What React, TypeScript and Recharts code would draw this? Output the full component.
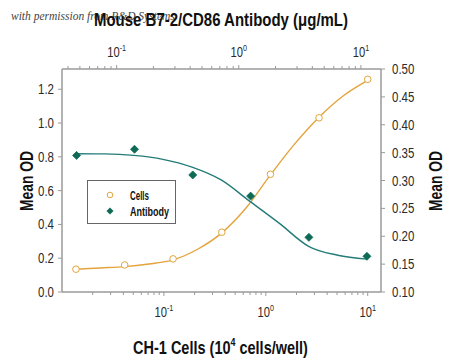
import React from 'react';
import { ComposedChart, Line, Scatter, XAxis, YAxis } from 'recharts';

// Measured points
const cellsX = [0.0137, 0.0412, 0.123, 0.37, 1.11, 3.33, 10];
const cellsOD = [0.135, 0.16, 0.196, 0.354, 0.697, 1.031, 1.259];
const antibodyX = [0.047, 0.14, 0.42, 1.25, 3.75, 11.2];
const antibodyOD = [0.345, 0.356, 0.31, 0.272, 0.198, 0.164];

// Fitted curves
const cellsFitX = [0.0137, 0.0238, 0.0412, 0.0713, 0.123, 0.214, 0.37, 0.642, 1.11, 1.92, 3.33, 5.77, 10];
const cellsFitOD = [0.135, 0.1425, 0.15, 0.166, 0.19, 0.253, 0.35, 0.499, 0.693, 0.877, 1.035, 1.162, 1.253];
const antibodyFitX = [0.046, 0.0797, 0.138, 0.239, 0.414, 0.717, 1.242, 2.152, 3.727, 6.455, 11.18];
const antibodyFitOD = [0.348, 0.3477, 0.345, 0.338, 0.324, 0.301, 0.262, 0.223, 0.182, 0.166, 0.159];

// Axis ticks
const majorTicks = [0.1, 1, 10];
const majorExps = ['-1', '0', '1'];
const bottomTicks = [0.02, 0.03, 0.04, 0.05, 0.06, 0.07, 0.08, 0.09, 0.1, 0.2, 0.3, 0.4, 0.5, 0.6, 0.7, 0.8, 0.9, 1, 2, 3, 4, 5, 6, 7, 8, 9, 10];
const topTicks = [0.04, 0.05, 0.06, 0.07, 0.08, 0.09, 0.1, 0.2, 0.3, 0.4, 0.5, 0.6, 0.7, 0.8, 0.9, 1, 2, 3, 4, 5, 6, 7, 8, 9, 10];
const leftTicks = [0, 0.2, 0.4, 0.6, 0.8, 1.0, 1.2];
const rightTicks = [0.1, 0.15, 0.2, 0.25, 0.3, 0.35, 0.4, 0.45, 0.5];

const cellsData = cellsX.map((x, i) => ({ x, y: cellsOD[i] }));
const antibodyData = antibodyX.map((x, i) => ({ x, y: antibodyOD[i] }));
const cellsFit = cellsFitX.map((x, i) => ({ x, y: cellsFitOD[i] }));
const antibodyFit = antibodyFitX.map((x, i) => ({ x, y: antibodyFitOD[i] }));

const FONT = "'Liberation Sans', Arial, sans-serif";
const AXIS = '#9a9a9a';
const ORANGE = '#e3a43c';
const TEAL = '#247c78';
const GREEN = '#0d6a55';
const TEXT = '#2a2a2a';
const TITLE = '#111';

const XTick = (props: any) => {
  const { x, y, payload, top } = props;
  const v = payload.value;
  const idx = majorTicks.indexOf(v);
  const major = idx >= 0;
  const dir = top ? -1 : 1;
  return (
    <g>
      <line x1={x} x2={x} y1={y} y2={y + dir * (major ? 4 : 3)} stroke={AXIS} strokeWidth={1} />
      {major && (
        <text transform={`translate(${x},${top ? y - 12 : y + 25}) scale(0.8,1)`} textAnchor="middle" fontFamily={FONT} fontSize={14} fill={TEXT}>
          <tspan>10</tspan>
          <tspan dy={-6} fontSize={9}>{majorExps[idx]}</tspan>
        </text>
      )}
    </g>
  );
};

const YTick = (props: any) => {
  const { x, y, payload, right } = props;
  const label = right ? payload.value.toFixed(2) : payload.value.toFixed(1);
  return (
    <text transform={`translate(${x},${y}) scale(0.82,1)`} dy="0.36em" textAnchor={right ? 'start' : 'end'} fontFamily={FONT} fontSize={14} fill={TEXT}>
      {label}
    </text>
  );
};

const Diamond = (props: any) => {
  const { cx, cy } = props;
  const r = 4;
  return <path d={`M${cx},${cy - r}L${cx + r},${cy}L${cx},${cy + r}L${cx - r},${cy}Z`} fill={GREEN} stroke={GREEN} strokeWidth={0.8} />;
};

const OpenCircle = (props: any) => {
  const { cx, cy } = props;
  return <circle cx={cx} cy={cy} r={3.3} fill="#fff" stroke={ORANGE} strokeWidth={1} />;
};

export default function App() {
  return (
    <div style={{ position: 'absolute', left: 0, top: 0, width: 450, height: 361, background: '#fff' }}>
      <ComposedChart width={450} height={361} margin={{ top: 0, right: 0, bottom: 0, left: 0 }}>
        <XAxis
          xAxisId="cells"
          dataKey="x"
          type="number"
          scale="log"
          domain={[0.01, 13.5]}
          allowDataOverflow
          ticks={bottomTicks}
          interval={0}
          height={69}
          tickLine={false}
          tickSize={0}
          tickMargin={0}
          axisLine={{ stroke: AXIS, strokeWidth: 1.5 }}
          tick={(p: any) => <XTick {...p} />}
        />
        <XAxis
          xAxisId="ab"
          orientation="top"
          dataKey="x"
          type="number"
          scale="log"
          domain={[0.0357, 14.6]}
          allowDataOverflow
          ticks={topTicks}
          interval={0}
          height={69}
          tickLine={false}
          tickSize={0}
          tickMargin={0}
          axisLine={{ stroke: AXIS, strokeWidth: 1.5 }}
          tick={(p: any) => <XTick {...p} top />}
        />
        <YAxis
          yAxisId="left"
          dataKey="y"
          type="number"
          domain={[0, 1.32]}
          allowDataOverflow
          ticks={leftTicks}
          interval={0}
          width={62}
          tickSize={4}
          tickMargin={4}
          axisLine={{ stroke: AXIS, strokeWidth: 1.5 }}
          tickLine={{ stroke: AXIS }}
          tick={(p: any) => <YTick {...p} />}
        />
        <YAxis
          yAxisId="right"
          orientation="right"
          dataKey="y"
          type="number"
          domain={[0.1, 0.5]}
          allowDataOverflow
          ticks={rightTicks}
          interval={0}
          width={69}
          tickSize={4}
          tickMargin={7}
          axisLine={{ stroke: AXIS, strokeWidth: 1.5 }}
          tickLine={{ stroke: AXIS }}
          tick={(p: any) => <YTick {...p} right />}
        />
        <Line xAxisId="cells" yAxisId="left" data={cellsFit} dataKey="y" type="monotone" stroke={ORANGE} strokeWidth={1.4} dot={false} activeDot={false} isAnimationActive={false} />
        <Line xAxisId="ab" yAxisId="right" data={antibodyFit} dataKey="y" type="monotone" stroke={TEAL} strokeWidth={1.4} dot={false} activeDot={false} isAnimationActive={false} />
        <Scatter xAxisId="cells" yAxisId="left" data={cellsData} dataKey="y" shape={<OpenCircle />} isAnimationActive={false} />
        <Scatter xAxisId="ab" yAxisId="right" data={antibodyData} dataKey="y" shape={<Diamond />} isAnimationActive={false} />
      </ComposedChart>
      <svg width={450} height={361} style={{ position: 'absolute', left: 0, top: 0, pointerEvents: 'none' }}>
        <text x={11} y={20} fontFamily="'Liberation Serif', serif" fontStyle="italic" fontSize={11.5} fill="#444">with permission from R&amp;D Systems</text>
        <text x={94} y={26} textLength={254} lengthAdjust="spacingAndGlyphs" fontFamily={FONT} fontWeight="bold" fontSize={18} fill={TITLE}>Mouse B7-2/CD86 Antibody (μg/mL)</text>
        <text transform="translate(220.5,354) scale(0.806,1)" textAnchor="middle" fontFamily={FONT} fontWeight="bold" fontSize={18} fill={TITLE}>
          <tspan>CH-1 Cells (10</tspan>
          <tspan dy={-8} fontSize={11}>4</tspan>
          <tspan dy={8}> cells/well)</tspan>
        </text>
        <text transform="translate(33,181) rotate(-90)" x={-30} textLength={60} lengthAdjust="spacingAndGlyphs" fontFamily={FONT} fontWeight="bold" fontSize={18} fill={TITLE}>Mean OD</text>
        <text transform="translate(442,181) rotate(-90)" x={-30} textLength={60} lengthAdjust="spacingAndGlyphs" fontFamily={FONT} fontWeight="bold" fontSize={18} fill={TITLE}>Mean OD</text>
        <rect x={87.5} y={180.5} width={88} height={43} fill="#fff" stroke="#666" strokeWidth={1} />
        <circle cx={110} cy={195} r={2.8} fill="#fff" stroke={ORANGE} strokeWidth={1} />
        <path d="M110,207.5L113.5,211L110,214.5L106.5,211Z" fill={GREEN} />
        <text x={130} y={199.5} textLength={19} lengthAdjust="spacingAndGlyphs" fontFamily={FONT} fontWeight="bold" fontSize={13} fill={TITLE}>Cells</text>
        <text x={130} y={215.5} textLength={39} lengthAdjust="spacingAndGlyphs" fontFamily={FONT} fontWeight="bold" fontSize={13} fill={TITLE}>Antibody</text>
      </svg>
    </div>
  );
}
